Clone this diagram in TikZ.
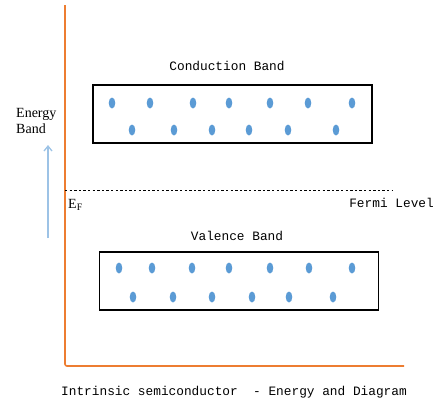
\documentclass[tikz,border=0pt]{standalone}
\usepackage{fontspec}
\setmainfont{Liberation Serif}
\setmonofont{Liberation Mono}
\usetikzlibrary{arrows.meta}
\definecolor{axisorange}{HTML}{ED7D31}
\definecolor{dotblue}{HTML}{5B9BD5}
\definecolor{arrowblue}{HTML}{9DC3E6}

\tikzstyle{band}=[draw, line width=1.8pt, minimum width=279pt, minimum height=58pt, inner sep=0pt]
\tikzstyle{title}=[font=\ttfamily\fontsize{12.8}{14}\selectfont, inner sep=0pt]
\tikzstyle{label}=[font=\fontsize{14}{16}\selectfont, inner sep=0pt]
\tikzstyle{electron}=[fill=dotblue]

\begin{document}
\begin{tikzpicture}[x=1pt,y=-1pt]
\useasboundingbox (0,0) rectangle (438,400);
% axes
\coordinate (top) at (65,5);
\coordinate (origin) at (65,366);
\coordinate (right) at (404,366);
\draw[axisorange, line width=1.6pt, rounded corners=2pt] (top) -- (origin) -- (right);

% bands
\node[band] (cb) at (232.5,114) {};
\node[band] (vb) at (239,281) {};
\node[title] (cbtitle) at (227,66) {Conduction Band};
\node[title] (vbtitle) at (237,236) {Valence Band};

% electrons
\foreach \x in {112,150,193,229,270,308,352}
  \fill[electron] (\x,103) ellipse (3.3pt and 5.5pt);
\foreach \x in {132,174,212,249,288,336}
  \fill[electron] (\x,130) ellipse (3.3pt and 5.5pt);
\foreach \x in {119,152,192,229,270,309,352}
  \fill[electron] (\x,268) ellipse (3.3pt and 5.5pt);
\foreach \x in {133,173,212,252,289,333}
  \fill[electron] (\x,297) ellipse (3.3pt and 5.5pt);

% fermi level
\coordinate (fermistart) at (65,190);
\coordinate (fermiend) at (393,190);
\draw[line width=0.9pt, dash pattern=on 2.4pt off 2.2pt] (fermistart) -- (fermiend);
\node[label, anchor=west] (ef) at (68,205) {E\textsubscript{F}};
\node[title, anchor=east] (fermi) at (434,203) {Fermi Level};

% energy axis
\node[label, align=left, anchor=north west] (energy) at (16,108) {Energy\\Band};
\coordinate (arrowtail) at (48,238);
\coordinate (arrowhead) at (48,145);
\draw[arrowblue, line width=1.3pt, -{Straight Barb[length=5pt,width=8pt]}] (arrowtail) -- (arrowhead);

\node[title] (caption) at (234,392) {Intrinsic semiconductor~~- Energy and Diagram};
\end{tikzpicture}
\end{document}
